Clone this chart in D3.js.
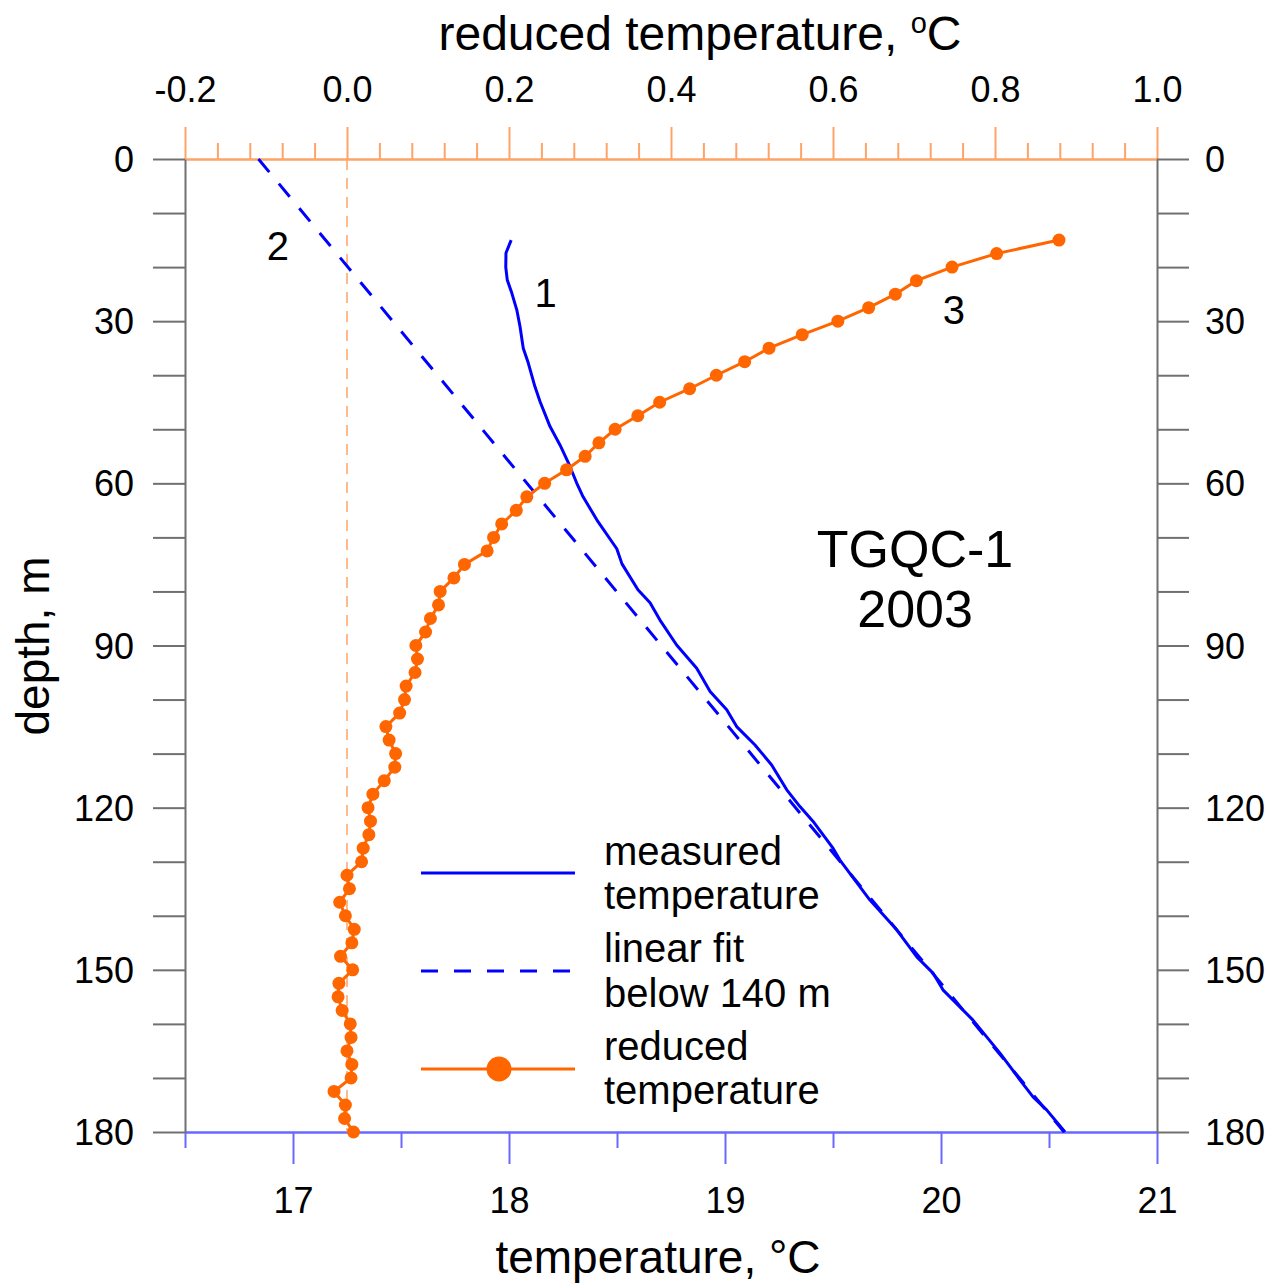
<!DOCTYPE html>
<html>
<head>
<meta charset="utf-8">
<script src="https://cdn.jsdelivr.net/npm/d3@7"></script>
<style>
  html, body { margin: 0; padding: 0; background: #fff; }
  svg { display: block; font-family: "Liberation Sans", Arial, sans-serif; }
</style>
</head>
<body>
<svg id="chart" width="1274" height="1283"></svg>
<script>
// ---------------- DATA ----------------
const tempTicks = [17, 18, 19, 20, 21];
const tempMinorTicks = [16.5, 17.5, 18.5, 19.5, 20.5];
const redTicks = [-0.2, 0.0, 0.2, 0.4, 0.6, 0.8, 1.0];
const redMinorTicks = [-0.16, -0.12, -0.08, -0.04, 0.04, 0.08, 0.12, 0.16, 0.24, 0.28, 0.32, 0.36,
  0.44, 0.48, 0.52, 0.56, 0.64, 0.68, 0.72, 0.76, 0.84, 0.88, 0.92, 0.96];
const depthTicks = [0, 10, 20, 30, 40, 50, 60, 70, 80, 90, 100, 110, 120, 130, 140, 150, 160, 170, 180];
const depthLabels = [0, 30, 60, 90, 120, 150, 180];

// measured temperature (curve 1)
const measuredDepth = [15.0, 17.4, 20.0, 22.4, 24.8, 27.9, 31.0, 35.0, 37.7, 42.1, 44.9, 49.5, 52.9, 56.2,
  59.9, 62.5, 67.1, 72.1, 74.9, 79.7, 82.1, 85.3, 89.9, 94.2, 98.5, 101.9, 105.0, 108.4, 112.1, 116.7,
  119.8, 122.5, 127.5, 129.7, 137.1, 142.6, 147.6, 150.6, 153.7, 159.3, 165.4, 170.4, 173.5, 175.9, 180.0];
const measuredTemp = [18.01, 17.986, 17.985, 17.992, 18.013, 18.036, 18.051, 18.066, 18.089, 18.120, 18.144,
  18.190, 18.236, 18.275, 18.313, 18.343, 18.412, 18.499, 18.523, 18.597, 18.653, 18.699, 18.776, 18.869,
  18.931, 19.008, 19.054, 19.139, 19.216, 19.286, 19.347, 19.407, 19.500, 19.532, 19.671, 19.795, 19.888,
  19.963, 20.009, 20.148, 20.273, 20.366, 20.426, 20.489, 20.574];

// linear fit below 140 m (curve 2)
const fitDepth = [0, 180];
const fitTemp = [16.84, 20.57];

// reduced temperature (curve 3)
const reducedDepth = [15, 17.5, 20, 22.5, 25, 27.5, 30, 32.5, 35, 37.5, 40, 42.5, 45, 47.5, 50, 52.5, 55,
  57.5, 60, 62.5, 65, 67.5, 70, 72.5, 75, 77.5, 80, 82.5, 85, 87.5, 90, 92.5, 95, 97.5, 100, 102.5, 105,
  107.5, 110, 112.5, 115, 117.5, 120, 122.5, 125, 127.5, 130, 132.5, 135, 137.5, 140, 142.5, 145, 147.5,
  150, 152.5, 155, 157.5, 160, 162.5, 165, 167.5, 170, 172.5, 175, 177.5, 180];
const reducedTemp = [0.879, 0.802, 0.747, 0.703, 0.677, 0.644, 0.606, 0.562, 0.521, 0.491, 0.456, 0.423,
  0.386, 0.359, 0.331, 0.311, 0.294, 0.271, 0.244, 0.222, 0.209, 0.191, 0.181, 0.173, 0.145, 0.132, 0.115,
  0.113, 0.103, 0.097, 0.085, 0.087, 0.084, 0.073, 0.071, 0.065, 0.048, 0.052, 0.060, 0.059, 0.046, 0.032,
  0.026, 0.029, 0.027, 0.020, 0.018, 0.000, 0.003, -0.009, -0.002, 0.009, 0.006, -0.008, 0.007, -0.010,
  -0.011, -0.006, 0.004, 0.005, 0.000, 0.006, 0.005, -0.016, -0.002, -0.003, 0.008];

const zeroLineDepth = [0, 180];
const zeroLineRed = [0, 0];

// annotations (data coords: temperature, depth)
const curveLabels = [
  { text: "1", temp: 18.17, depth: 27.4 },
  { text: "2", temp: 16.93, depth: 18.7 },
  { text: "3", temp: 20.06, depth: 30.5 }
];
const wellLabel = [
  { text: "TGQC-1", temp: 19.88, depth: 75.5 },
  { text: "2003", temp: 19.88, depth: 86.6 }
];
const legendItems = [
  { lines: ["measured", "temperature"], kind: "solid" },
  { lines: ["linear fit", "below 140 m"], kind: "dashed" },
  { lines: ["reduced", "temperature"], kind: "dots" }
];

// ---------------- CHART ----------------
const L = 185, R = 1157, T = 159, B = 1132;
const x = d3.scaleLinear().domain([16.5, 21]).range([L, R]);
const xr = d3.scaleLinear().domain([-0.2, 1.0]).range([L, R]);
const y = d3.scaleLinear().domain([0, 180]).range([T, B]);

const svg = d3.select("#chart");
const BLUE = "#0000ff", ORANGE = "#ff6600";
const GRAY = "#707070", AXBLUE = "#6868ff", AXORANGE = "#ffa466";
const tickFont = 36;

function styleAxis(g, color) {
  g.selectAll("path.domain").attr("stroke", color).attr("stroke-width", 2);
  g.selectAll(".tick line").attr("stroke", color).attr("stroke-width", 2);
  g.selectAll(".tick text").attr("fill", "#000").attr("font-size", tickFont)
    .attr("font-family", '"Liberation Sans", Arial, sans-serif');
}

// left axis
const gl = svg.append("g").attr("transform", `translate(${L},0)`)
  .call(d3.axisLeft(y).tickValues(depthTicks).tickSize(32).tickSizeOuter(0)
    .tickFormat(d => depthLabels.includes(d) ? d3.format("d")(d) : ""));
styleAxis(gl, GRAY);
gl.selectAll(".tick text").attr("x", -51).attr("dy", "0.35em");

// right axis
const gr = svg.append("g").attr("transform", `translate(${R},0)`)
  .call(d3.axisRight(y).tickValues(depthTicks).tickSize(32).tickSizeOuter(0)
    .tickFormat(d => depthLabels.includes(d) ? d3.format("d")(d) : ""));
styleAxis(gr, GRAY);
gr.selectAll(".tick text").attr("x", 48).attr("dy", "0.35em");

// bottom axis (temperature)
const gbMinor = svg.append("g").attr("transform", `translate(0,${B})`)
  .call(d3.axisBottom(x).tickValues(tempMinorTicks).tickSize(16).tickSizeOuter(0).tickFormat(""));
styleAxis(gbMinor, AXBLUE);
const gb = svg.append("g").attr("transform", `translate(0,${B})`)
  .call(d3.axisBottom(x).tickValues(tempTicks).tickSize(32).tickSizeOuter(0).tickFormat(d3.format("d")));
styleAxis(gb, AXBLUE);
gb.selectAll(".tick text").attr("y", 81).attr("dy", null);

// top axis (reduced temperature)
const gtMinor = svg.append("g").attr("transform", `translate(0,${T})`)
  .call(d3.axisTop(xr).tickValues(redMinorTicks).tickSize(16).tickSizeOuter(0).tickFormat(""));
styleAxis(gtMinor, AXORANGE);
const gt = svg.append("g").attr("transform", `translate(0,${T})`)
  .call(d3.axisTop(xr).tickValues(redTicks).tickSize(32).tickSizeOuter(0).tickFormat(d3.format(".1f")));
styleAxis(gt, AXORANGE);
gt.selectAll(".tick text").attr("y", -57).attr("dy", null)
  .text(d => d < 0 ? "-" + d3.format(".1f")(-d) : d3.format(".1f")(d));

// gray corner ticks over colored ends
gl.raise(); gr.raise();

// axis titles
svg.append("text").attr("x", 700).attr("y", 50).attr("text-anchor", "middle")
  .attr("font-size", 48)
  .call(t => {
    t.append("tspan").text("reduced temperature, ");
    t.append("tspan").text("o").attr("font-size", 29).attr("dy", -17);
    t.append("tspan").text("C").attr("dy", 17);
  });
svg.append("text").attr("x", 658).attr("y", 1273).attr("text-anchor", "middle")
  .attr("font-size", 46).text("temperature, \u00B0C");
svg.append("text").attr("transform", "translate(49,646) rotate(-90)").attr("text-anchor", "middle")
  .attr("font-size", 46).text("depth, m");

// zero reduced-temperature line
svg.append("path")
  .datum(zeroLineDepth.map((d, i) => [zeroLineRed[i], d]))
  .attr("d", d3.line().x(d => xr(d[0])).y(d => y(d[1])))
  .attr("stroke", AXORANGE).attr("stroke-width", 1.5).attr("stroke-dasharray", "11,8").attr("fill", "none");

// linear fit
svg.append("path")
  .datum(fitDepth.map((d, i) => [fitTemp[i], d]))
  .attr("d", d3.line().x(d => x(d[0])).y(d => y(d[1])))
  .attr("stroke", BLUE).attr("stroke-width", 3).attr("stroke-dasharray", "17,15").attr("fill", "none");

// measured
svg.append("path")
  .datum(measuredDepth.map((d, i) => [measuredTemp[i], d]))
  .attr("d", d3.line().x(d => x(d[0])).y(d => y(d[1])))
  .attr("stroke", BLUE).attr("stroke-width", 3).attr("fill", "none").attr("stroke-linejoin", "round");

// reduced
const redData = reducedDepth.map((d, i) => [reducedTemp[i], d]);
svg.append("path").datum(redData)
  .attr("d", d3.line().x(d => xr(d[0])).y(d => y(d[1])))
  .attr("stroke", ORANGE).attr("stroke-width", 3).attr("fill", "none");
svg.append("g").selectAll("circle").data(redData).join("circle")
  .attr("cx", d => xr(d[0])).attr("cy", d => y(d[1])).attr("r", 6.5).attr("fill", ORANGE);

// curve labels
svg.append("g").selectAll("text").data(curveLabels).join("text")
  .attr("x", d => x(d.temp)).attr("y", d => y(d.depth)).attr("text-anchor", "middle")
  .attr("font-size", 40).text(d => d.text);
svg.append("g").selectAll("text").data(wellLabel).join("text")
  .attr("x", d => x(d.temp)).attr("y", d => y(d.depth)).attr("text-anchor", "middle")
  .attr("font-size", 52).text(d => d.text);

// legend
const lg = svg.append("g");
const legY = [873, 971, 1069];
const textY = [[865, 909], [962, 1007], [1060, 1104]];
legendItems.forEach((it, i) => {
  const line = lg.append("line").attr("x1", 421).attr("x2", 575).attr("y1", legY[i]).attr("y2", legY[i])
    .attr("stroke-width", 3);
  if (it.kind === "solid") line.attr("stroke", BLUE);
  if (it.kind === "dashed") line.attr("stroke", BLUE).attr("stroke-dasharray", "17,16");
  if (it.kind === "dots") {
    line.attr("stroke", ORANGE);
    lg.append("circle").attr("cx", 499).attr("cy", legY[i]).attr("r", 12.5).attr("fill", ORANGE);
  }
  it.lines.forEach((s, j) => {
    lg.append("text").attr("x", 604).attr("y", textY[i][j]).attr("font-size", 40).text(s);
  });
});
</script>
</body>
</html>
